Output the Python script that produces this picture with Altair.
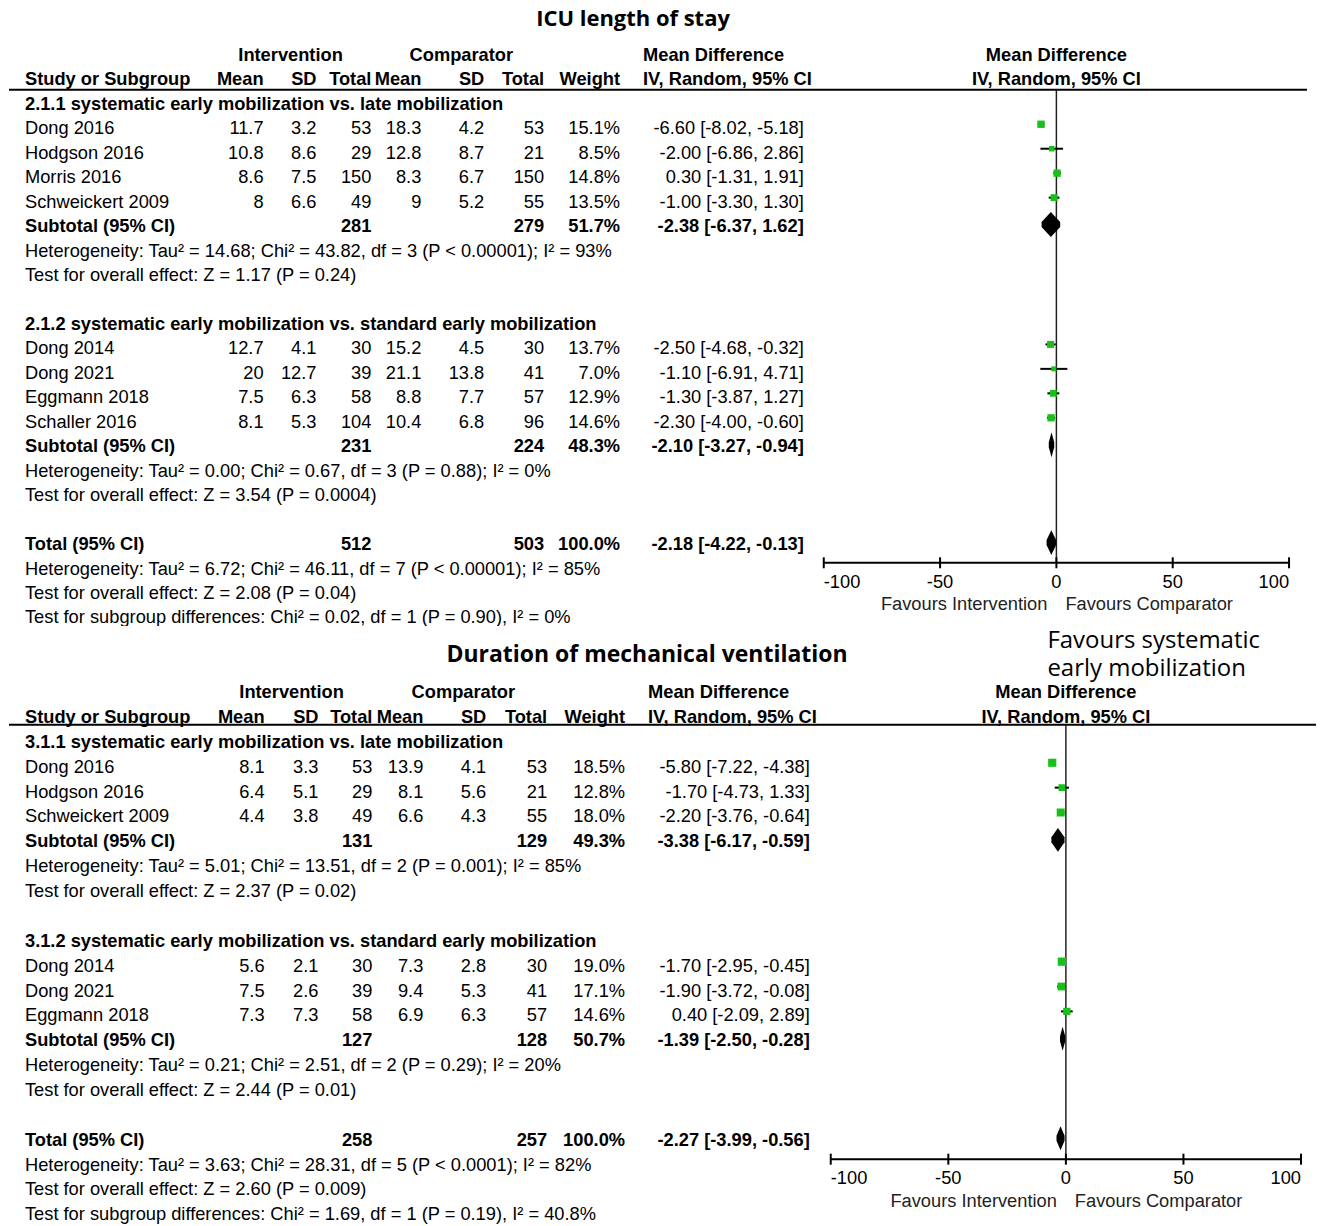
import altair as alt
import pandas as pd

# ======================= DATA =======================
header_top = ["Intervention", "Comparator", "Mean Difference", "Mean Difference"]
header_cols = ["Study or Subgroup", "Mean", "SD", "Total", "Mean", "SD", "Total",
               "Weight", "IV, Random, 95% CI", "IV, Random, 95% CI"]
subtotal_label = "Subtotal (95% CI)"
total_label = "Total (95% CI)"
axis_ticks = [-100, -50, 0, 50, 100]
favours = ["Favours Intervention", "Favours Comparator"]
note_lines = ["Favours systematic", "early mobilization"]

# ---- ICU length of stay ----
icu_title = "ICU length of stay"
icu_groups = ["2.1.1 systematic early mobilization vs. late mobilization",
              "2.1.2 systematic early mobilization vs. standard early mobilization"]
icu_study = ["Dong 2016", "Hodgson 2016", "Morris 2016", "Schweickert 2009",
             "Dong 2014", "Dong 2021", "Eggmann 2018", "Schaller 2016"]
icu_group = [0, 0, 0, 0, 1, 1, 1, 1]
icu_m1 = [11.7, 10.8, 8.6, 8, 12.7, 20, 7.5, 8.1]
icu_sd1 = [3.2, 8.6, 7.5, 6.6, 4.1, 12.7, 6.3, 5.3]
icu_n1 = [53, 29, 150, 49, 30, 39, 58, 104]
icu_m2 = [18.3, 12.8, 8.3, 9, 15.2, 21.1, 8.8, 10.4]
icu_sd2 = [4.2, 8.7, 6.7, 5.2, 4.5, 13.8, 7.7, 6.8]
icu_n2 = [53, 21, 150, 55, 30, 41, 57, 96]
icu_w = [15.1, 8.5, 14.8, 13.5, 13.7, 7.0, 12.9, 14.6]
icu_md = [-6.60, -2.00, 0.30, -1.00, -2.50, -1.10, -1.30, -2.30]
icu_lo = [-8.02, -6.86, -1.31, -3.30, -4.68, -6.91, -3.87, -4.00]
icu_hi = [-5.18, 2.86, 1.91, 1.30, -0.32, 4.71, 1.27, -0.60]
icu_sub_n1 = [281, 231]
icu_sub_n2 = [279, 224]
icu_sub_w = [51.7, 48.3]
icu_sub_md = [-2.38, -2.10]
icu_sub_lo = [-6.37, -3.27]
icu_sub_hi = [1.62, -0.94]
icu_sub_het = ["Heterogeneity: Tau² = 14.68; Chi² = 43.82, df = 3 (P < 0.00001); I² = 93%",
               "Heterogeneity: Tau² = 0.00; Chi² = 0.67, df = 3 (P = 0.88); I² = 0%"]
icu_sub_test = ["Test for overall effect: Z = 1.17 (P = 0.24)",
                "Test for overall effect: Z = 3.54 (P = 0.0004)"]
icu_tot = [512, 503, 100.0, -2.18, -4.22, -0.13]
icu_tot_notes = ["Heterogeneity: Tau² = 6.72; Chi² = 46.11, df = 7 (P < 0.00001); I² = 85%",
                 "Test for overall effect: Z = 2.08 (P = 0.04)",
                 "Test for subgroup differences: Chi² = 0.02, df = 1 (P = 0.90), I² = 0%"]

# ---- Duration of mechanical ventilation ----
mv_title = "Duration of mechanical ventilation"
mv_groups = ["3.1.1 systematic early mobilization vs. late mobilization",
             "3.1.2 systematic early mobilization vs. standard early mobilization"]
mv_study = ["Dong 2016", "Hodgson 2016", "Schweickert 2009",
            "Dong 2014", "Dong 2021", "Eggmann 2018"]
mv_group = [0, 0, 0, 1, 1, 1]
mv_m1 = [8.1, 6.4, 4.4, 5.6, 7.5, 7.3]
mv_sd1 = [3.3, 5.1, 3.8, 2.1, 2.6, 7.3]
mv_n1 = [53, 29, 49, 30, 39, 58]
mv_m2 = [13.9, 8.1, 6.6, 7.3, 9.4, 6.9]
mv_sd2 = [4.1, 5.6, 4.3, 2.8, 5.3, 6.3]
mv_n2 = [53, 21, 55, 30, 41, 57]
mv_w = [18.5, 12.8, 18.0, 19.0, 17.1, 14.6]
mv_md = [-5.80, -1.70, -2.20, -1.70, -1.90, 0.40]
mv_lo = [-7.22, -4.73, -3.76, -2.95, -3.72, -2.09]
mv_hi = [-4.38, 1.33, -0.64, -0.45, -0.08, 2.89]
mv_sub_n1 = [131, 127]
mv_sub_n2 = [129, 128]
mv_sub_w = [49.3, 50.7]
mv_sub_md = [-3.38, -1.39]
mv_sub_lo = [-6.17, -2.50]
mv_sub_hi = [-0.59, -0.28]
mv_sub_het = ["Heterogeneity: Tau² = 5.01; Chi² = 13.51, df = 2 (P = 0.001); I² = 85%",
              "Heterogeneity: Tau² = 0.21; Chi² = 2.51, df = 2 (P = 0.29); I² = 20%"]
mv_sub_test = ["Test for overall effect: Z = 2.37 (P = 0.02)",
               "Test for overall effect: Z = 2.44 (P = 0.01)"]
mv_tot = [258, 257, 100.0, -2.27, -3.99, -0.56]
mv_tot_notes = ["Heterogeneity: Tau² = 3.63; Chi² = 28.31, df = 5 (P < 0.0001); I² = 82%",
                "Test for overall effect: Z = 2.60 (P = 0.009)",
                "Test for subgroup differences: Chi² = 1.69, df = 1 (P = 0.19), I² = 40.8%"]

# ======================= STYLE / LAYOUT =======================
FONT = "Liberation Sans"
FS = 18.3
GREEN = "#19c019"
WIDTH = 1309
OX = 8  # page margin

LAYOUT_TOP = dict(top=8, height=618, row0=55, row_px=24.5,
                  x={"study": 24, "m1": 263, "sd1": 316, "n1": 371, "m2": 421, "sd2": 484,
                     "n2": 544, "w": 620, "md": 804, "h_int": 290, "h_cmp": 461, "h_md": 643},
                  fx=(824, 1290), under=(89, 8, 1308), axis_y=562.7, label_y=583, fav_y=605,
                  title=(633, 25, "alphabetic"), title_size=22, dia_half=10, note=None)
LAYOUT_BOT = dict(top=626, height=600, row0=693.3, row_px=24.9,
                  x={"study": 24, "m1": 264, "sd1": 318, "n1": 372, "m2": 423, "sd2": 486,
                     "n2": 547, "w": 625, "md": 810, "h_int": 291, "h_cmp": 463, "h_md": 648},
                  fx=(831, 1302), under=(725, 8, 1317), axis_y=1160, label_y=1180, fav_y=1203,
                  title=(647, 655, "middle"), title_size=23, dia_half=9.5,
                  note=(1048, [641, 669]))

COL_ALIGN = {"study": "left", "h_md": "left", "h_int": "center", "h_cmp": "center",
             "m1": "right", "sd1": "right", "n1": "right", "m2": "right", "sd2": "right",
             "n2": "right", "w": "right", "md": "right"}


def ci_text(md, lo, hi):
    return f"{md:.2f} [{lo:.2f}, {hi:.2f}]"


def panel(P, L):
    top = L["top"]
    H = L["height"]
    rp = L["row_px"]
    r_top = (top - L["row0"]) / rp
    r_bot = (top + H - L["row0"]) / rp
    ys = alt.Scale(domain=[r_top, r_bot], reverse=True, nice=False, zero=False)
    xs = alt.Scale(domain=[axis_ticks[0], axis_ticks[-1]],
                   range=[L["fx"][0] - OX, L["fx"][1] - OX], nice=False, zero=False)

    def Y(f="row"):
        return alt.Y(f"{f}:Q", scale=ys, axis=None)

    def X(f):
        return alt.X(f"{f}:Q", scale=xs, axis=None)

    def py(v):
        return v - top

    def px(v):
        return v - OX

    cells, fcells, studies, dia = [], [], [], []

    def add(r, c, t, b):
        cells.append({"row": r, "col": c, "text": t, "bold": b})

    add(0, "h_int", header_top[0], True)
    add(0, "h_cmp", header_top[1], True)
    add(0, "h_md", header_top[2], True)
    fcells.append({"row": 0, "v": 0, "text": header_top[3]})
    for c, t in zip(["study", "m1", "sd1", "n1", "m2", "sd2", "n2", "w", "h_md"], header_cols[:9]):
        add(1, c, t, True)
    fcells.append({"row": 1, "v": 0, "text": header_cols[9]})

    r = 2
    for g, gname in enumerate(P["groups"]):
        add(r, "study", gname, True)
        r += 1
        for i in range(len(P["study"])):
            if P["group"][i] != g:
                continue
            add(r, "study", P["study"][i], False)
            add(r, "m1", f"{P['m1'][i]:g}", False)
            add(r, "sd1", f"{P['sd1'][i]:g}", False)
            add(r, "n1", str(P["n1"][i]), False)
            add(r, "m2", f"{P['m2'][i]:g}", False)
            add(r, "sd2", f"{P['sd2'][i]:g}", False)
            add(r, "n2", str(P["n2"][i]), False)
            add(r, "w", f"{P['w'][i]:.1f}%", False)
            add(r, "md", ci_text(P["md"][i], P["lo"][i], P["hi"][i]), False)
            studies.append({"row": r, "md": P["md"][i], "lo": P["lo"][i],
                            "hi": P["hi"][i], "w": P["w"][i]})
            r += 1
        add(r, "study", subtotal_label, True)
        add(r, "n1", str(P["sub_n1"][g]), True)
        add(r, "n2", str(P["sub_n2"][g]), True)
        add(r, "w", f"{P['sub_w'][g]:.1f}%", True)
        add(r, "md", ci_text(P["sub_md"][g], P["sub_lo"][g], P["sub_hi"][g]), True)
        dia.append((r, P["sub_md"][g], P["sub_lo"][g], P["sub_hi"][g]))
        r += 1
        add(r, "study", P["sub_het"][g], False)
        r += 1
        add(r, "study", P["sub_test"][g], False)
        r += 2
    n1, n2, w, md, lo, hi = P["tot"]
    add(r, "study", total_label, True)
    add(r, "n1", str(n1), True)
    add(r, "n2", str(n2), True)
    add(r, "w", f"{w:.1f}%", True)
    add(r, "md", ci_text(md, lo, hi), True)
    dia.append((r, md, lo, hi))
    r += 1
    for t in P["tot_notes"]:
        add(r, "study", t, False)
        r += 1

    hh = L["dia_half"] / rp
    dia_rows = []
    for k, (rr, m, l, h) in enumerate(dia):
        dia_rows += [{"id": k, "x": l, "y1": rr, "y2": rr},
                     {"id": k, "x": m, "y1": rr - hh, "y2": rr + hh},
                     {"id": k, "x": h, "y1": rr, "y2": rr}]

    layers = []
    df = pd.DataFrame(cells)
    for c, align in COL_ALIGN.items():
        for b in (False, True):
            sub = df[(df["col"] == c) & (df["bold"] == b)]
            if len(sub) == 0:
                continue
            layers.append(
                alt.Chart(sub).mark_text(align=align, baseline="middle", font=FONT, fontSize=FS,
                                         fontWeight="bold" if b else "normal", color="black",
                                         clip=True)
                .encode(x=alt.value(px(L["x"][c])), y=Y(), text="text:N"))
    # forest headers centred on the line of no effect
    layers.append(
        alt.Chart(pd.DataFrame(fcells)).mark_text(align="center", baseline="middle", font=FONT,
                                                  fontSize=FS, fontWeight="bold", color="black",
                                                  clip=True)
        .encode(x=X("v"), y=Y(), text="text:N"))
    # title
    tx, ty, tb = L["title"]
    layers.append(
        alt.Chart(pd.DataFrame({"t": [P["title"]]})).mark_text(
            align="center", baseline=tb, font="Open Sans", fontSize=L["title_size"],
            fontWeight="bold", color="black", clip=True)
        .encode(x=alt.value(px(tx)), y=alt.value(py(ty)), text="t:N"))
    if L["note"] is not None:
        nx, nys = L["note"]
        for line, ny in zip(note_lines, nys):
            layers.append(
                alt.Chart(pd.DataFrame({"t": [line]})).mark_text(
                    align="left", baseline="middle", font="Open Sans", fontSize=24,
                    color="black", clip=True)
                .encode(x=alt.value(px(nx)), y=alt.value(py(ny)), text="t:N"))
    # header underline
    uy, ux0, ux1 = L["under"]
    layers.append(
        alt.Chart(pd.DataFrame({"a": [0]})).mark_rule(color="black", strokeWidth=2)
        .encode(x=alt.value(px(ux0)), x2=alt.value(px(ux1)), y=alt.value(py(uy))))
    ay = py(L["axis_y"])
    # line of no effect
    layers.append(
        alt.Chart(pd.DataFrame({"v": [0]})).mark_rule(color="#222222", strokeWidth=1.5)
        .encode(x=X("v"), y=alt.value(py(uy)), y2=alt.value(ay)))
    # axis line and ticks
    layers.append(
        alt.Chart(pd.DataFrame({"lo": [axis_ticks[0]], "hi": [axis_ticks[-1]]}))
        .mark_rule(color="black", strokeWidth=2)
        .encode(x=X("lo"), x2=alt.X2("hi:Q"), y=alt.value(ay)))
    tdf = pd.DataFrame({"t": axis_ticks, "lab": [str(t) for t in axis_ticks]})
    layers.append(
        alt.Chart(tdf).mark_rule(color="black", strokeWidth=2)
        .encode(x=X("t"), y=alt.value(ay - 5.5), y2=alt.value(ay + 5.5)))
    for sub, align in ((tdf[tdf["t"] == axis_ticks[0]], "left"),
                       (tdf[(tdf["t"] != axis_ticks[0]) & (tdf["t"] != axis_ticks[-1])], "center"),
                       (tdf[tdf["t"] == axis_ticks[-1]], "right")):
        layers.append(
            alt.Chart(sub).mark_text(align=align, baseline="middle", font=FONT, fontSize=FS,
                                     color="black", clip=True)
            .encode(x=X("t"), y=alt.value(py(L["label_y"])), text="lab:N"))
    layers.append(
        alt.Chart(pd.DataFrame({"v": [0], "t": [favours[0]]})).mark_text(
            align="right", baseline="middle", dx=-9, font=FONT, fontSize=FS, color="#222222",
            clip=True)
        .encode(x=X("v"), y=alt.value(py(L["fav_y"])), text="t:N"))
    layers.append(
        alt.Chart(pd.DataFrame({"v": [0], "t": [favours[1]]})).mark_text(
            align="left", baseline="middle", dx=9, font=FONT, fontSize=FS, color="#222222",
            clip=True)
        .encode(x=X("v"), y=alt.value(py(L["fav_y"])), text="t:N"))
    # study CIs and squares
    sdf = pd.DataFrame(studies)
    layers.append(
        alt.Chart(sdf).mark_rule(color="black", strokeWidth=2, yOffset=-5)
        .encode(x=X("lo"), x2=alt.X2("hi:Q"), y=Y()))
    layers.append(
        alt.Chart(sdf).mark_square(color=GREEN, opacity=1, yOffset=-5)
        .encode(x=X("md"), y=Y(),
                size=alt.Size("w:Q", scale=alt.Scale(domain=[0, 20], range=[0, 72]), legend=None)))
    # pooled diamonds
    layers.append(
        alt.Chart(pd.DataFrame(dia_rows)).mark_area(color="black", opacity=1, yOffset=-5)
        .encode(x=X("x"), y=Y("y1"), y2=alt.Y2("y2:Q"), detail="id:N"))

    return alt.layer(*layers).properties(width=WIDTH, height=H)


icu = dict(title=icu_title, groups=icu_groups, study=icu_study, group=icu_group,
           m1=icu_m1, sd1=icu_sd1, n1=icu_n1, m2=icu_m2, sd2=icu_sd2, n2=icu_n2,
           w=icu_w, md=icu_md, lo=icu_lo, hi=icu_hi, sub_n1=icu_sub_n1, sub_n2=icu_sub_n2,
           sub_w=icu_sub_w, sub_md=icu_sub_md, sub_lo=icu_sub_lo, sub_hi=icu_sub_hi,
           sub_het=icu_sub_het, sub_test=icu_sub_test, tot=icu_tot, tot_notes=icu_tot_notes)
mv = dict(title=mv_title, groups=mv_groups, study=mv_study, group=mv_group,
          m1=mv_m1, sd1=mv_sd1, n1=mv_n1, m2=mv_m2, sd2=mv_sd2, n2=mv_n2,
          w=mv_w, md=mv_md, lo=mv_lo, hi=mv_hi, sub_n1=mv_sub_n1, sub_n2=mv_sub_n2,
          sub_w=mv_sub_w, sub_md=mv_sub_md, sub_lo=mv_sub_lo, sub_hi=mv_sub_hi,
          sub_het=mv_sub_het, sub_test=mv_sub_test, tot=mv_tot, tot_notes=mv_tot_notes)

chart = (alt.vconcat(panel(icu, LAYOUT_TOP), panel(mv, LAYOUT_BOT), spacing=0, bounds="flush")
         .properties(padding=0, background="white")
         .configure_view(stroke=None))

chart.save("out.html", embed_options={"renderer": "svg", "actions": False})
